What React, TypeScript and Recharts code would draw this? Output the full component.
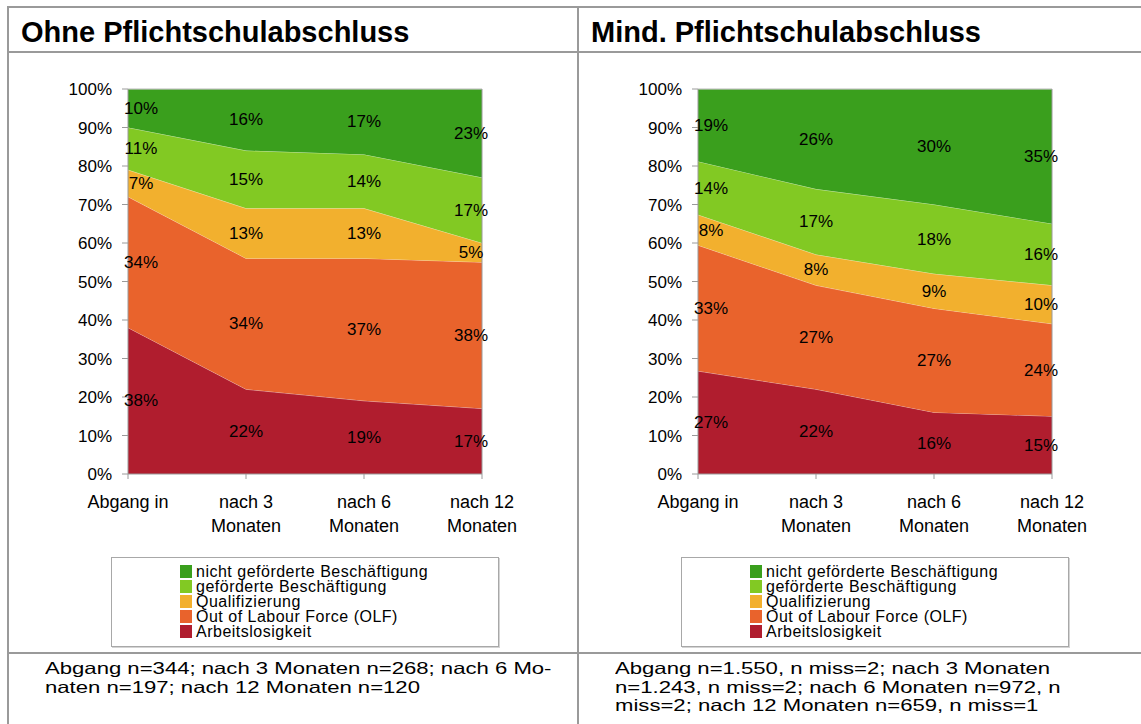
import React from 'react';
import { ComposedChart, Area, Line, XAxis, YAxis, ReferenceLine, LabelList } from 'recharts';

const categories = ['Abgang in', 'nach 3\nMonaten', 'nach 6\nMonaten', 'nach 12\nMonaten'];
const yTicks = [0, 10, 20, 30, 40, 50, 60, 70, 80, 90, 100];

// stacked bottom to top
const seriesNames = [
  'Arbeitslosigkeit',
  'Out of Labour Force (OLF)',
  'Qualifizierung',
  'geförderte Beschäftigung',
  'nicht geförderte Beschäftigung',
];
const seriesColors = ['#B01D2E', '#E9632C', '#F2B02E', '#82C923', '#3A9F1D'];

// Ohne Pflichtschulabschluss
const ohneArbeitslos = [38, 22, 19, 17];
const ohneOLF = [34, 34, 37, 38];
const ohneQuali = [7, 13, 13, 5];
const ohneGefoerdert = [11, 15, 14, 17];
const ohneNichtGefoerdert = [10, 16, 17, 23];

// Mind. Pflichtschulabschluss
const mindArbeitslos = [27, 22, 16, 15];
const mindOLF = [33, 27, 27, 24];
const mindQuali = [8, 8, 9, 10];
const mindGefoerdert = [14, 17, 18, 16];
const mindNichtGefoerdert = [19, 26, 30, 35];

const ohneNote = ['Abgang n=344; nach 3 Monaten n=268; nach 6 Mo-', 'naten n=197; nach 12 Monaten n=120'];
const mindNote = [
  'Abgang n=1.550, n miss=2; nach 3 Monaten',
  'n=1.243, n miss=2; nach 6 Monaten n=972, n',
  'miss=2; nach 12 Monaten n=659, n miss=1',
];

const FONT = '"Liberation Sans", Arial, sans-serif';
const LINE = '#9a9a9a';

// normalise each column to 100% (like a 100% stacked area) and add band midpoints for labels
function buildRows(series: number[][]) {
  return categories.map((cat, i) => {
    const sum = series.reduce((s, arr) => s + arr[i], 0);
    const row: any = { cat };
    let cum = 0;
    series.forEach((arr, k) => {
      const v = (arr[i] / sum) * 100;
      row['s' + k] = v;
      row['m' + k] = cum + v / 2;
      row['l' + k] = arr[i];
      cum += v;
    });
    return row;
  });
}

function XTick(props: any) {
  const { x, y, payload } = props;
  const lines = String(payload.value).split('\n');
  return (
    <text x={x} y={y} textAnchor="middle" fontSize={18} fontFamily={FONT} fill="#000">
      {lines.map((l, i) => (
        <tspan key={i} x={x} dy={i === 0 ? 27 : 24}>
          {l}
        </tspan>
      ))}
    </text>
  );
}

function renderLabel(props: any) {
  const vb = props.viewBox || {};
  const x = props.x ?? vb.x;
  const y = props.y ?? vb.y;
  let idx = props.index;
  const pvb = props.parentViewBox;
  if (typeof idx !== 'number' && pvb) {
    if (Math.abs(x - pvb.x) < 1) idx = 0;
    else if (Math.abs(x - (pvb.x + pvb.width)) < 1) idx = categories.length - 1;
  }
  const dx = idx === 0 ? 13 : idx === categories.length - 1 ? -11 : 0;
  return (
    <text x={x + dx} y={y} textAnchor="middle" dominantBaseline="central" fontSize={17} fontFamily={FONT} fill="#000">
      {props.value}%
    </text>
  );
}

function Panel({ left, title, series, note }: { left: number; title: string; series: number[][]; note: string[] }) {
  const rows = buildRows(series);
  return (
    <>
      <div
        style={{
          position: 'absolute',
          left: left + 21,
          top: 15,
          fontFamily: FONT,
          fontWeight: 'bold',
          fontSize: 29,
          lineHeight: '34px',
          color: '#000',
          whiteSpace: 'nowrap',
        }}
      >
        {title}
      </div>
      <div style={{ position: 'absolute', left, top: 60 }}>
        <ComposedChart width={570} height={500} data={rows} margin={{ top: 29, right: 88, bottom: 26, left: 48 }}>
          <XAxis
            dataKey="cat"
            scale="point"
            padding={{ left: 0, right: 0 }}
            height={60}
            interval={0}
            tick={<XTick />}
            tickSize={5}
            axisLine={{ stroke: LINE }}
            tickLine={{ stroke: LINE }}
          />
          <YAxis
            type="number"
            domain={[0, 100]}
            ticks={yTicks}
            allowDataOverflow
            width={80}
            tickSize={6}
            tickMargin={10}
            tickFormatter={(v: number) => `${v}%`}
            tick={{ fontSize: 17, fontFamily: FONT, fill: '#000' }}
            axisLine={{ stroke: LINE }}
            tickLine={{ stroke: LINE }}
          />
          {seriesNames.map((name, k) => (
            <Area
              key={name}
              type="linear"
              dataKey={'s' + k}
              name={name}
              stackId="1"
              fill={seriesColors[k]}
              fillOpacity={1}
              stroke="#ffffff"
              strokeOpacity={0.45}
              strokeWidth={1}
              isAnimationActive={false}
            />
          ))}
          <ReferenceLine y={100} stroke="#b8b8b8" />
          <ReferenceLine x={categories[categories.length - 1]} stroke={LINE} />
          {seriesNames.map((name, k) => (
            <Line
              key={'m' + name}
              type="linear"
              dataKey={'m' + k}
              stroke="none"
              dot={false}
              activeDot={false}
              legendType="none"
              isAnimationActive={false}
            >
              <LabelList dataKey={'l' + k} content={renderLabel} />
            </Line>
          ))}
        </ComposedChart>
      </div>
      <div
        style={{
          position: 'absolute',
          left: left + 111,
          top: 557,
          width: 386,
          height: 88,
          border: '1px solid #a8a8a8',
          boxShadow: '1px 1px 0 #d4d4d4',
          fontFamily: FONT,
          fontSize: 16,
          letterSpacing: 0.5,
          color: '#000',
        }}
      >
        <div style={{ position: 'absolute', left: 68, top: 6 }}>
          {seriesNames
            .map((n, k) => ({ n, c: seriesColors[k] }))
            .reverse()
            .map((it) => (
              <div key={it.n} style={{ height: 15, lineHeight: '15px', display: 'flex', alignItems: 'center', whiteSpace: 'nowrap' }}>
                <span style={{ display: 'inline-block', width: 12, height: 13, background: it.c, marginRight: 4 }} />
                {it.n}
              </div>
            ))}
        </div>
      </div>
      <div
        style={{
          position: 'absolute',
          left: left + 45,
          top: 659,
          fontFamily: FONT,
          fontSize: 16.5,
          lineHeight: '18.5px',
          color: '#000',
          whiteSpace: 'pre',
          transform: 'scaleX(1.34)',
          transformOrigin: 'left top',
        }}
      >
        {note.join('\n')}
      </div>
    </>
  );
}

export default function App() {
  return (
    <div style={{ position: 'absolute', left: 0, top: 0, width: 1141, height: 724, background: '#fff', overflow: 'hidden' }}>
      <div style={{ position: 'absolute', left: 7, top: 6, width: 1134, height: 2, background: LINE }} />
      <div style={{ position: 'absolute', left: 7, top: 51, width: 1134, height: 2, background: LINE }} />
      <div style={{ position: 'absolute', left: 7, top: 652, width: 1134, height: 2, background: LINE }} />
      <div style={{ position: 'absolute', left: 7, top: 6, width: 2, height: 718, background: LINE }} />
      <div style={{ position: 'absolute', left: 577, top: 6, width: 2, height: 718, background: LINE }} />
      <Panel
        left={0}
        title="Ohne Pflichtschulabschluss"
        series={[ohneArbeitslos, ohneOLF, ohneQuali, ohneGefoerdert, ohneNichtGefoerdert]}
        note={ohneNote}
      />
      <Panel
        left={570}
        title="Mind. Pflichtschulabschluss"
        series={[mindArbeitslos, mindOLF, mindQuali, mindGefoerdert, mindNichtGefoerdert]}
        note={mindNote}
      />
    </div>
  );
}
